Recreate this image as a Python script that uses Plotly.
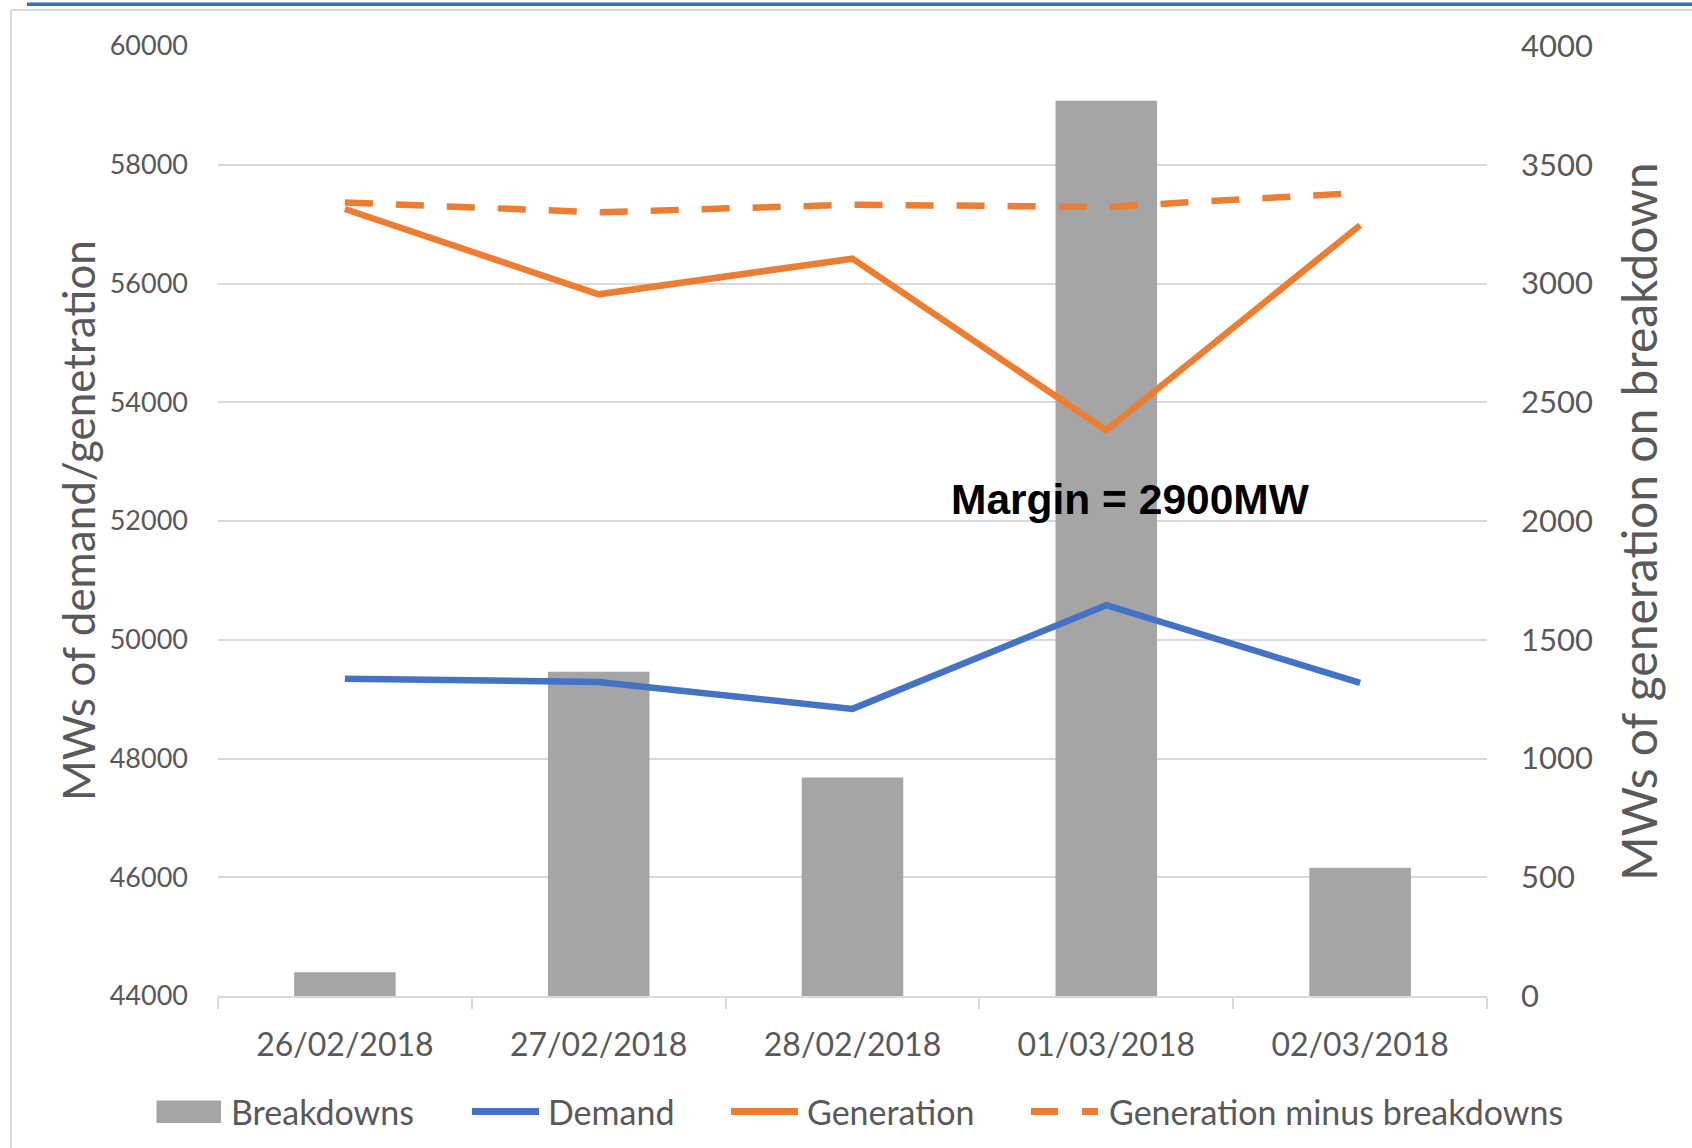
import plotly.graph_objects as go

# ---- data ----
dates = ['26/02/2018', '27/02/2018', '28/02/2018', '01/03/2018', '02/03/2018']
breakdowns = [100, 1365, 920, 3770, 540]
demand = [49345, 49290, 48836, 50582, 49273]
generation = [57255, 55818, 56418, 53527, 56982]
gen_minus_breakdowns = [57364, 57200, 57327, 57290, 57527]

left_ticks = [44000, 46000, 48000, 50000, 52000, 54000, 56000, 58000, 60000]
right_ticks = [0, 500, 1000, 1500, 2000, 2500, 3000, 3500, 4000]

W, H = 1692, 1148
# plot area in page pixels
PL, PR, PT, PB = 218, 1487, 46, 996

def px(xp):  # page pixel -> paper x
    return (xp - PL) / (PR - PL)

def py(yp):  # page pixel -> paper y
    return (PB - yp) / (PB - PT)

GRAY = '#A5A5A5'
BLUE = '#4472C4'
ORANGE = '#ED7D31'
TXT = '#595959'
GRID = '#D9D9D9'
FONT = 'Lato, Carlito, Calibri, sans-serif'
LW = 6.5

fig = go.Figure()
fig.add_trace(go.Bar(x=dates, y=breakdowns, name='Breakdowns', marker=dict(color=GRAY, line=dict(width=0)),
                     yaxis='y', showlegend=False))
fig.add_trace(go.Scatter(x=dates, y=demand, name='Demand', mode='lines', yaxis='y2',
                         line=dict(color=BLUE, width=LW), showlegend=False))
fig.add_trace(go.Scatter(x=dates, y=generation, name='Generation', mode='lines', yaxis='y2',
                         line=dict(color=ORANGE, width=LW), showlegend=False))
fig.add_trace(go.Scatter(x=dates, y=gen_minus_breakdowns, name='Generation minus breakdowns', mode='lines',
                         yaxis='y2', line=dict(color=ORANGE, width=LW, dash='28px,23px'), showlegend=False))

shapes = []
annotations = []

# decorative frame: blue top rule and light gray border
shapes.append(dict(type='line', xref='paper', yref='paper', x0=px(27), x1=px(W + 5), y0=py(4.3), y1=py(4.3),
                   line=dict(color='#2E75B6', width=3.5)))
shapes.append(dict(type='line', xref='paper', yref='paper', x0=px(11), x1=px(W + 5), y0=py(10), y1=py(10),
                   line=dict(color=GRID, width=2)))
shapes.append(dict(type='line', xref='paper', yref='paper', x0=px(11), x1=px(11), y0=py(10), y1=py(H + 5),
                   line=dict(color=GRID, width=2)))

# custom legend
LY = 1111.5
LFS = 34
shapes.append(dict(type='rect', xref='paper', yref='paper', x0=px(156.5), x1=px(221), y0=py(1100.5), y1=py(1123),
                   fillcolor=GRAY, line=dict(width=0)))
annotations.append(dict(text='Breakdowns', xref='paper', yref='paper', x=px(229), y=py(LY), xanchor='left',
                        yanchor='middle', showarrow=False, font=dict(family=FONT, size=LFS, color=TXT)))
shapes.append(dict(type='line', xref='paper', yref='paper', x0=px(472), x1=px(539), y0=py(LY), y1=py(LY),
                   line=dict(color=BLUE, width=7)))
annotations.append(dict(text='Demand', xref='paper', yref='paper', x=px(546), y=py(LY), xanchor='left',
                        yanchor='middle', showarrow=False, font=dict(family=FONT, size=LFS, color=TXT)))
shapes.append(dict(type='line', xref='paper', yref='paper', x0=px(731), x1=px(798), y0=py(LY), y1=py(LY),
                   line=dict(color=ORANGE, width=7)))
annotations.append(dict(text='Generation', xref='paper', yref='paper', x=px(805), y=py(LY), xanchor='left',
                        yanchor='middle', showarrow=False, font=dict(family=FONT, size=LFS, color=TXT)))
shapes.append(dict(type='line', xref='paper', yref='paper', x0=px(1031), x1=px(1058), y0=py(LY), y1=py(LY),
                   line=dict(color=ORANGE, width=7)))
shapes.append(dict(type='line', xref='paper', yref='paper', x0=px(1082), x1=px(1098), y0=py(LY), y1=py(LY),
                   line=dict(color=ORANGE, width=7)))
annotations.append(dict(text='Generation minus breakdowns', xref='paper', yref='paper', x=px(1107), y=py(LY),
                        xanchor='left', yanchor='middle', showarrow=False,
                        font=dict(family=FONT, size=LFS, color=TXT)))

# axis titles
annotations.append(dict(text='MWs of demand/genetration', xref='paper', yref='paper', x=px(78), y=py(521),
                        textangle=-90, xanchor='center', yanchor='middle', showarrow=False,
                        font=dict(family=FONT, size=44, color=TXT)))
annotations.append(dict(text='MWs of generation on breakdown', xref='paper', yref='paper', x=px(1638), y=py(522),
                        textangle=-90, xanchor='center', yanchor='middle', showarrow=False,
                        font=dict(family=FONT, size=48, color=TXT)))

# margin annotation
annotations.append(dict(text='<b>Margin = 2900MW</b>', x='01/03/2018', y=52360, xref='x', yref='y2',
                        xshift=24, showarrow=False, xanchor='center', yanchor='middle',
                        font=dict(family='Liberation Sans, Arial, sans-serif', size=42.5, color='black')))

fig.update_layout(
    width=W, height=H,
    margin=dict(l=PL, r=W - PR, t=PT, b=H - PB, pad=0),
    paper_bgcolor='white', plot_bgcolor='white',
    bargap=0.6,
    showlegend=False,
    hovermode=False,
    shapes=shapes,
    annotations=annotations,
    xaxis=dict(type='category', range=[-0.5, 4.5], showline=True, linecolor=GRID, linewidth=2,
               ticks='outside', tickson='boundaries', ticklen=11, tickwidth=2, tickcolor=GRID,
               showgrid=False, zeroline=False, ticklabelstandoff=20,
               tickfont=dict(family=FONT, size=32, color=TXT)),
    yaxis=dict(side='right', range=[0, 4000], tickvals=right_ticks, ticktext=[str(v) for v in right_ticks],
               showgrid=True, gridcolor=GRID, gridwidth=2, zeroline=False, showline=False, ticks='',
               ticklabelstandoff=33, tickfont=dict(family=FONT, size=31, color=TXT)),
    yaxis2=dict(side='left', overlaying='y', range=[44000, 60000], tickvals=left_ticks,
                ticktext=[str(v) for v in left_ticks], showgrid=False, zeroline=False, showline=False,
                ticks='', ticklabelstandoff=29, tickfont=dict(family=FONT, size=27, color=TXT)),
)

fig.write_html('out.html', config={'displayModeBar': False, 'staticPlot': True},
               post_script="document.body.style.margin='0';document.body.style.overflow='hidden';")
